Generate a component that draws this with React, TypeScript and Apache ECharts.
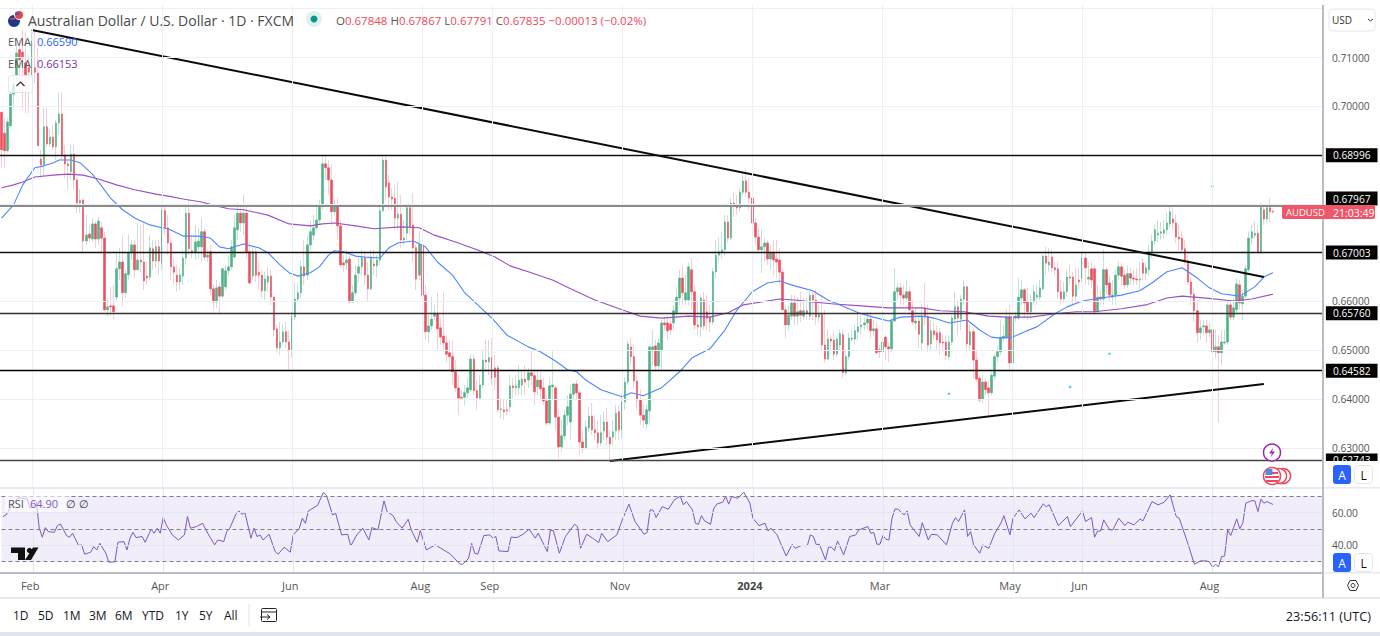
import React, { useEffect, useRef } from "react";
import * as echarts from "echarts";

// Daily AUD/USD candles: [open, close, low, high], in 1/10000 of a dollar.
const candlesFeb23: number[][] = [
[6988,6911,6874,6988],[6945,6909,6874,6976],[6909,6968,6905,6976],[6960,7025,6960,7034],[7025,7044,6997,7064],[7064,7109,7044,7130],[7116,7095,7064,7136],[7111,7099,6993,7157],[7089,7064,6986,7152],[7079,7070,6986,7105],
[7064,7134,7064,7152],[7079,7070,7046,7157],[7068,6919,6919,7120],[6892,6880,6853,6911],[6880,6958,6855,6997],[6958,6923,6917,6997],[6923,6937,6917,6952],[6937,6917,6911,6962],[6917,6966,6890,6972],[6966,6984,6941,7029],
[6984,6900,6890,7029],[6900,6882,6853,6921],[6882,6878,6829,6890],[6866,6902,6849,6921],[6902,6849,6829,6921],[6849,6802,6781,6853],[6802,6808,6781,6829],[6808,6724,6702,6812],[6724,6736,6716,6777],[6738,6730,6722,6757],
[6728,6759,6722,6771],[6759,6728,6710,6763],[6728,6765,6716,6773],[6751,6730,6702,6763],[6730,6583,6579,6743],[6583,6589,6568,6607],[6591,6589,6570,6630],[6591,6579,6564,6634],[6609,6667,6603,6700],[6667,6681,6644,6710],
[6681,6618,6591,6736],[6618,6657,6607,6665],[6655,6700,6644,6736],[6700,6716,6685,6726],[6716,6665,6648,6726],[6665,6685,6665,6761],[6685,6681,6660,6757],[6681,6642,6624,6763],[6652,6648,6634,6681],[6650,6710,6644,6736],
[6708,6683,6665,6726],[6683,6712,6669,6726],[6712,6683,6654,6726],[6679,6786,6665,6798],[6786,6751,6736,6798],[6751,6720,6695,6777],[6720,6671,6644,6730],[6671,6660,6634,6689],[6654,6640,6620,6675],[6640,6654,6624,6669],
];
const candlesApr23: number[][] = [
[6652,6689,6634,6706],[6689,6781,6675,6798],[6781,6708,6695,6808],[6704,6702,6689,6736],[6700,6722,6685,6757],[6712,6724,6689,6751],[6712,6743,6681,6771],[6743,6691,6685,6751],[6691,6695,6681,6706],[6702,6626,6613,6716],
[6626,6599,6583,6634],[6599,6628,6587,6644],[6630,6611,6575,6640],[6611,6667,6607,6669],[6630,6663,6624,6675],[6663,6671,6654,6695],[6671,6712,6665,6726],[6691,6751,6689,6777],[6747,6781,6726,6802],[6781,6761,6743,6798],
[6761,6781,6736,6818],[6781,6702,6689,6798],[6702,6638,6634,6722],[6652,6702,6644,6710],[6702,6654,6640,6710],[6660,6654,6624,6681],[6654,6622,6607,6665],[6622,6646,6603,6661],[6640,6652,6620,6669],[6652,6609,6593,6665],
[6609,6542,6529,6613],[6544,6505,6495,6552],[6505,6517,6491,6558],[6517,6538,6511,6552],[6538,6517,6505,6558],[6517,6501,6460,6542],[6501,6570,6485,6579],[6568,6605,6562,6640],[6605,6618,6599,6636],[6618,6671,6607,6685],
[6671,6652,6634,6726],[6654,6716,6644,6736],[6716,6743,6706,6767],[6736,6751,6726,6777],[6751,6767,6747,6798],[6767,6796,6757,6808],[6796,6882,6788,6900],[6882,6874,6849,6900],[6874,6849,6818,6890],[6849,6784,6757,6880],
[6784,6794,6777,6808],[6796,6755,6726,6812],[6755,6675,6669,6767],[6679,6675,6660,6695],[6679,6685,6665,6706],[6687,6599,6597,6695],[6599,6618,6597,6634],[6618,6654,6613,6675],[6658,6671,6640,6689],[6671,6689,6654,6706],
];
const candlesJul23: number[][] = [
[6689,6654,6634,6700],[6654,6626,6599,6681],[6626,6691,6624,6706],[6677,6673,6654,6706],[6673,6685,6650,6695],[6685,6786,6675,6798],[6786,6890,6784,6900],[6890,6835,6808,6896],[6843,6814,6788,6859],[6814,6810,6788,6833],
[6812,6771,6747,6839],[6771,6779,6747,6845],[6779,6726,6710,6818],[6726,6730,6716,6767],[6740,6792,6726,6798],[6792,6753,6736,6798],[6757,6710,6681,6822],[6710,6646,6624,6716],[6654,6716,6644,6743],[6716,6613,6579,6722],
[6613,6538,6521,6634],[6538,6550,6515,6572],[6550,6564,6542,6609],[6570,6576,6562,6593],[6576,6544,6501,6618],[6546,6527,6511,6566],[6529,6515,6497,6618],[6515,6492,6476,6531],[6495,6487,6460,6521],[6487,6456,6429,6521],
[6456,6423,6415,6480],[6423,6402,6367,6449],[6404,6402,6398,6419],[6404,6413,6388,6429],[6413,6423,6402,6443],[6419,6482,6415,6491],[6482,6417,6408,6491],[6417,6402,6378,6439],[6402,6429,6398,6449],[6429,6480,6423,6501],
[6480,6476,6460,6521],[6476,6485,6449,6521],[6485,6443,6429,6525],[6464,6445,6419,6491],[6464,6378,6372,6470],[6378,6380,6361,6402],[6378,6374,6357,6398],[6378,6376,6367,6398],[6384,6427,6374,6449],[6427,6423,6402,6443],
[6423,6427,6408,6449],[6423,6439,6408,6470],[6429,6441,6408,6456],[6441,6435,6408,6470],[6439,6454,6423,6464],[6454,6448,6429,6501],[6448,6415,6388,6460],[6425,6439,6408,6456],[6439,6421,6398,6454],[6423,6396,6388,6443],
];
const candlesSep23: number[][] = [
[6396,6351,6347,6408],[6351,6427,6347,6443],[6425,6429,6398,6501],[6423,6363,6337,6429],[6363,6302,6279,6378],[6302,6325,6292,6357],[6325,6367,6316,6378],[6367,6384,6347,6408],[6353,6410,6316,6429],[6410,6431,6398,6433],
[6431,6413,6398,6439],[6413,6312,6285,6419],[6312,6298,6289,6337],[6300,6343,6296,6357],[6341,6365,6333,6384],[6365,6337,6326,6392],[6337,6331,6316,6367],[6331,6310,6296,6357],[6310,6331,6304,6367],[6335,6353,6316,6374],
[6353,6322,6306,6382],[6322,6308,6273,6337],[6322,6333,6306,6357],[6335,6371,6316,6388],[6374,6337,6316,6388],[6337,6394,6320,6408],[6394,6435,6378,6445],[6435,6513,6429,6521],[6507,6487,6470,6525],[6487,6437,6423,6511],
[6437,6398,6378,6449],[6398,6367,6347,6419],[6367,6357,6341,6388],[6349,6378,6337,6388],[6376,6507,6347,6511],[6499,6507,6470,6542],[6509,6468,6456,6521],[6468,6515,6460,6525],[6499,6556,6456,6562],[6556,6552,6540,6570],
[6556,6540,6521,6572],[6554,6542,6531,6566],[6556,6581,6542,6593],[6577,6609,6566,6628],[6607,6648,6593,6665],[6648,6618,6593,6675],[6603,6618,6593,6654],[6603,6671,6593,6679],[6665,6620,6583,6689],[6620,6552,6542,6634],
[6552,6548,6531,6603],[6548,6607,6527,6613],[6603,6550,6542,6620],[6579,6566,6542,6613],[6568,6558,6538,6593],[6558,6661,6552,6669],[6661,6695,6648,6726],[6695,6702,6681,6730],[6700,6706,6689,6743],[6706,6763,6695,6777],
];
const candlesDec23: number[][] = [
[6763,6730,6720,6777],[6730,6802,6726,6812],[6802,6796,6773,6824],[6794,6792,6777,6818],[6792,6824,6784,6833],[6824,6847,6818,6865],[6847,6824,6814,6872],[6824,6812,6788,6853],[6812,6761,6757,6839],[6761,6732,6716,6771],
[6732,6706,6702,6751],[6706,6712,6659,6747],[6712,6720,6681,6730],[6720,6687,6675,6726],[6687,6699,6665,6716],[6699,6685,6654,6726],[6687,6681,6648,6726],[6685,6660,6634,6710],[6660,6583,6583,6669],[6583,6552,6525,6593],
[6552,6572,6542,6593],[6570,6597,6562,6613],[6597,6570,6552,6613],[6570,6579,6552,6609],[6581,6572,6558,6620],[6570,6581,6562,6607],[6581,6576,6562,6607],[6570,6613,6562,6620],[6613,6603,6562,6620],[6603,6568,6552,6624],
[6568,6574,6558,6593],[6574,6511,6501,6613],[6511,6482,6474,6583],[6482,6523,6480,6542],[6523,6519,6501,6531],[6521,6492,6480,6538],[6492,6523,6487,6531],[6511,6534,6501,6542],[6532,6454,6443,6542],[6454,6487,6449,6501],
[6487,6525,6480,6536],[6523,6525,6517,6542],[6523,6540,6511,6552],[6538,6548,6521,6579],[6548,6552,6531,6572],[6552,6556,6542,6566],[6556,6564,6542,6579],[6564,6540,6525,6579],[6540,6544,6531,6562],[6544,6495,6491,6558],
[6501,6497,6484,6511],[6497,6517,6484,6525],[6527,6507,6480,6531],[6507,6503,6476,6515],[6503,6560,6497,6566],[6560,6620,6558,6669],[6620,6628,6603,6638],[6628,6613,6593,6638],[6613,6607,6593,6634],[6607,6620,6599,6644],
];
const candlesMar24: number[][] = [
[6620,6583,6572,6630],[6581,6558,6552,6603],[6556,6560,6542,6587],[6560,6533,6505,6572],[6515,6568,6501,6593],[6587,6570,6552,6638],[6570,6511,6497,6593],[6513,6540,6501,6562],[6540,6532,6521,6558],[6536,6521,6501,6552],
[6536,6515,6491,6546],[6517,6515,6497,6531],[6517,6489,6480,6531],[6487,6517,6480,6531],[6517,6566,6511,6572],[6564,6589,6552,6620],[6589,6566,6531,6603],[6564,6605,6542,6613],[6605,6630,6593,6644],[6630,6513,6501,6634],
[6511,6538,6501,6552],[6538,6480,6443,6546],[6480,6441,6435,6501],[6443,6398,6392,6449],[6400,6435,6392,6449],[6435,6419,6408,6443],[6423,6413,6367,6439],[6413,6449,6408,6456],[6447,6487,6439,6491],[6487,6497,6476,6511],
[6497,6527,6491,6562],[6525,6529,6517,6552],[6527,6568,6521,6583],[6568,6474,6456,6593],[6474,6566,6468,6583],[6566,6570,6558,6579],[6566,6609,6562,6648],[6607,6624,6593,6644],[6624,6597,6566,6628],[6599,6579,6562,6628],
[6579,6601,6566,6613],[6599,6620,6593,6634],[6609,6613,6593,6634],[6609,6628,6603,6644],[6626,6693,6624,6695],[6693,6679,6654,6712],[6675,6681,6660,6710],[6691,6669,6660,6706],[6669,6665,6654,6681],[6667,6620,6607,6681],
[6620,6605,6593,6644],[6605,6620,6597,6640],[6620,6650,6611,6665],[6650,6648,6634,6675],[6650,6611,6593,6660],[6611,6634,6599,6669],[6644,6640,6624,6669],[6648,6689,6640,6702],[6689,6669,6634,6700],[6646,6650,6634,6681],
];
const candlesJun24: number[][] = [
[6667,6644,6628,6681],[6667,6579,6572,6675],[6579,6609,6575,6634],[6609,6605,6593,6624],[6605,6665,6593,6706],[6665,6634,6613,6669],[6638,6613,6599,6654],[6609,6613,6593,6644],[6613,6654,6593,6665],[6654,6671,6644,6681],
[6671,6652,6634,6679],[6654,6634,6624,6665],[6634,6657,6628,6673],[6657,6648,6634,6669],[6648,6646,6634,6665],[6646,6644,6634,6669],[6644,6646,6624,6681],[6679,6658,6644,6689],[6658,6669,6644,6679],[6665,6702,6654,6716],
[6702,6724,6689,6736],[6724,6747,6716,6757],[6736,6740,6722,6767],[6740,6743,6726,6763],[6740,6747,6730,6767],[6747,6761,6736,6784],[6759,6784,6751,6798],[6769,6761,6747,6792],[6761,6732,6720,6777],[6732,6728,6706,6757],
[6730,6706,6702,6743],[6708,6681,6675,6726],[6683,6640,6634,6695],[6640,6615,6593,6648],[6615,6581,6558,6628],[6581,6536,6515,6603],[6536,6546,6521,6562],[6548,6550,6531,6562],[6550,6536,6515,6562],[6536,6542,6525,6558],
[6542,6497,6480,6562],[6497,6507,6484,6542],[6507,6495,6351,6531],[6495,6517,6470,6542],[6515,6517,6511,6542],[6517,6593,6511,6603],[6593,6568,6562,6603],[6568,6587,6562,6607],[6583,6636,6577,6648],[6634,6597,6583,6644],
[6595,6611,6562,6624],[6611,6667,6603,6675],[6665,6730,6660,6743],[6730,6743,6716,6757],[6736,6740,6730,6763],[6740,6702,6702,6757],[6702,6794,6698,6802],[6788,6769,6757,6798],[6769,6792,6763,6798],[6792,6784,6763,6812],
[6784.8,6783.5,6779.1,6786.7],
];

// EMA readings: candle number and value in 1/10000 of a dollar.
const emaFastIndex = [0,4,7,11,14,17,19,23,26,30,33,36,40,44,49,53,55,60,65,69,72,75,77,80,85,88,92,95,98,102,105,108,110,113,117,120,125,128,131,136,140,144,149,153,158,162,167,174,178,183,187,190,193,198,205,208,212,218,224,228,234,239,243,248,253,257,262,268,273,277,283,288,293,297,304,308,313,319,323,327,330,334,338,342,348,352,357,361,370,376,380,385,390,395,399,403,409,414,417,420];
const emaFastValues = [6771,6798,6839,6874,6878,6884,6890,6890,6884,6861,6837,6812,6788,6771,6757,6751,6749,6734,6734,6730,6712,6708,6712,6718,6710,6700,6675,6659,6652,6659,6671,6695,6704,6702,6693,6691,6689,6710,6720,6724,6712,6681,6654,6618,6589,6566,6531,6507,6497,6478,6460,6456,6439,6419,6405,6413,6407,6423,6456,6484,6503,6542,6583,6620,6638,6642,6632,6622,6603,6593,6577,6568,6560,6568,6570,6566,6556,6562,6542,6527,6525,6527,6538,6548,6575,6589,6601,6605,6613,6622,6638,6661,6669,6648,6628,6616,6611,6630,6650,6659];
const emaSlowIndex = [0,4,7,11,17,22,27,32,38,44,51,55,60,66,71,75,80,88,95,102,106,110,117,123,132,138,143,150,158,163,168,174,182,188,196,205,211,218,227,234,240,245,251,257,262,268,275,284,293,304,310,318,326,332,340,348,355,361,370,378,385,390,398,407,413,420];
const emaSlowValues = [6833,6839,6845,6855,6859,6861,6859,6851,6839,6829,6820,6816,6810,6804,6796,6790,6788,6777,6759,6755,6759,6761,6755,6749,6753,6751,6736,6722,6704,6691,6673,6661,6644,6626,6603,6583,6570,6566,6570,6568,6577,6593,6599,6605,6603,6599,6595,6591,6587,6587,6581,6579,6570,6568,6568,6575,6579,6579,6585,6593,6607,6611,6607,6601,6605,6615];

// RSI readings: candle number and value.
const rsiIndex = [0,1,3,5,8,9,11,12,13,14,15,17,18,19,21,22,23,25,26,27,29,30,31,32,34,35,37,38,40,41,42,43,44,46,47,49,50,51,52,53,54,56,58,60,61,62,64,66,68,70,71,73,74,75,77,78,79,80,82,83,84,85,86,88,90,91,93,95,96,98,99,100,101,104,106,107,109,110,112,114,115,117,119,121,122,124,126,127,129,130,132,134,135,137,138,140,143,148,151,152,154,155,156,157,159,161,162,163,164,167,168,170,172,174,176,177,180,181,182,184,186,189,190,191,193,195,197,198,200,203,204,205,207,209,212,213,214,215,216,218,220,222,224,225,226,228,229,230,231,232,234,235,236,238,239,240,241,243,245,247,248,250,252,253,254,256,259,261,262,264,266,267,268,269,270,272,273,274,275,276,278,280,282,283,286,287,288,289,290,291,292,293,294,295,296,298,299,300,303,304,306,307,309,312,314,315,316,318,319,320,321,323,324,326,328,330,331,333,334,336,338,340,341,342,344,345,346,349,352,353,357,358,360,361,362,363,364,366,367,369,371,372,374,376,377,380,382,384,386,388,389,392,394,396,398,399,400,401,402,403,404,405,406,408,409,410,411,413,414,415,416,417,418,420];
const rsiValues = [57.5,58.5,64.7,69.1,68.3,62.6,66.7,50.4,44.9,50.8,48.3,47.9,52,53,45.9,44.9,47.3,39.8,40.2,34.5,35.7,39.2,37.1,41.2,35.1,29.6,29.8,41.8,42.2,37.1,44.3,47.9,44.7,45.3,41.8,49.8,47.3,50.4,47.3,57.1,52.4,46.3,43.2,46.3,57.5,50.4,51.4,53.4,46.3,40.2,43.2,42.2,48.3,50.4,58.9,61,58.9,60,44.3,50.4,45.3,46.3,43.2,46.7,36.1,34.5,38.8,35.7,46.3,50.4,56.5,53.4,61,64.3,72.4,70.4,58.5,59.6,46.3,46.7,39.6,46.3,50.4,43.2,50.8,49.4,67.1,60.6,58.1,54.5,50.4,55.9,49.4,41.8,49,37.1,40.2,34.5,28.6,28.3,32,41.2,35.1,34.5,45.9,46.3,44.3,45.3,36.5,36.1,44.9,44.7,46.7,49.8,44.3,47.3,36.1,49,49,35.1,45.3,52.8,51.4,38.1,46.7,44.3,41.6,47.3,42.2,46.3,51.4,56.5,65.1,54.5,46.7,47.7,61.6,61.4,56.9,63.6,62,67.7,70,64.7,66.7,61.6,53.4,52.8,58.1,54.9,52.8,62.2,65.1,66.3,69.8,65.1,69.8,68.7,72.4,65.7,56.5,52,53.4,48.7,50.4,46.3,33.4,40.6,38.1,39.8,39.8,46.3,45.3,40.2,40.6,31,38.8,38.8,36.7,42.6,34.1,45.3,46.3,49.4,51.4,47.3,47.7,40.6,40.6,45.9,43.6,43.2,56.5,62.2,62,58.5,61,52.4,45.3,53.8,43.2,46.7,46.3,40.2,53.4,56.9,54.5,61.6,45.3,48.3,40.2,35.1,40.2,38.1,47.3,53.4,58.1,46.3,56.5,61.6,56.1,59.6,56.9,59.6,65.3,63.6,64.7,52,57.5,51.4,61,54.5,56.9,44.9,48.7,48.7,55.5,49.4,49.4,56.5,52,54.1,52.4,56.1,54.9,66.7,64.7,66.3,70.8,57.5,56.5,40.2,28.3,30.4,30.4,29.6,26.5,28.3,26.9,33,33.4,49.4,45.9,56.1,50,53.4,65.7,67.3,67.1,60.6,68.1,65.7,66.7,64.9];

// Price scale, levels and trend lines, in dollars.
const priceTicks = [0.63, 0.64, 0.65, 0.66, 0.7, 0.71];
const priceGrid = [0.63, 0.64, 0.65, 0.66, 0.67, 0.68, 0.69, 0.7, 0.71, 0.72];
const levels = [0.68996, 0.67967, 0.67003, 0.6576, 0.64582, 0.62743];
const levelColors = ["#111", "#8a8a8a", "#111", "#333", "#000", "#444"];
const falling = [[10, 0.71564], [417, 0.66502]];
const rising = [[201, 0.62732], [417, 0.64309]];
const stray = [[400, 0.6836], [366, 0.6493], [353, 0.6425], [313, 0.6411]];
const rsiTicks = [40, 60];

// Time axis.
const monthIndex = [10, 53, 96, 139, 162, 205, 248, 291, 334, 357, 400];
const monthLabelIndex = [9, 52, 95, 138, 161, 204, 247, 290, 333, 356, 399];
const monthNames = ["Feb", "Apr", "Jun", "Aug", "Sep", "Nov", "2024", "Mar", "May", "Jun", "Aug"];
const rangeButtons = ["1D", "5D", "1M", "3M", "6M", "YTD", "1Y", "5Y", "All"];
const rangeX = [13, 38, 63, 89, 115, 142, 175, 199, 224];

const SLOTS = 437;
const FONT = '"Open Sans", sans-serif';
const UP = "#4fb386";
const DOWN = "#ee4f60";

const candles = [...candlesFeb23, ...candlesApr23, ...candlesJul23, ...candlesSep23, ...candlesDec23, ...candlesMar24, ...candlesJun24]
  .map((r) => r.map((v) => v / 10000));
const categories = Array.from({ length: SLOTS }, (_, i) => String(i));
const pairUp = (ix: number[], vs: number[], k = 1) => ix.map((x, i) => [x, vs[i] * k]);

const txt = (x: number, y: number, text: string, fontSize: number, fill: string, extra: any = {}) => ({
  type: "text", x, y, z: 110,
  style: { text, fontSize, fill, fontFamily: FONT, verticalAlign: "middle", ...extra },
});
const box = (x: number, y: number, width: number, height: number, fill: string, stroke?: string, r = 0, z = 100) => ({
  type: "rect", z, shape: { x, y, width, height, r },
  style: stroke ? { fill, stroke, lineWidth: 1 } : { fill },
});

export default function App() {
  const ref = useRef<HTMLDivElement>(null);
  useEffect(() => {
    const chart = echarts.init(ref.current!, undefined, { renderer: "svg" });
    const monthLines = monthIndex.map((x) => ({ xAxis: x }));
    const gridStyle = { color: "#e9f0f6", width: 1, type: "solid" as const };
    const ohlcRich: any = {
      l: { fontSize: 11.5, fill: "#555", color: "#555", fontFamily: FONT },
      v: { fontSize: 11.5, fill: "#f0485a", color: "#f0485a", fontFamily: FONT },
    };
    chart.setOption({
      animation: false,
      backgroundColor: "#fff",
      grid: [
        { left: -2.5, top: 5, width: 1325.4, height: 483 },
        { left: -2.5, top: 488, width: 1325.4, height: 85 },
      ],
      xAxis: [
        { type: "category", gridIndex: 0, data: categories, boundaryGap: true, axisLine: { show: false }, axisTick: { show: false }, axisLabel: { show: false }, splitLine: { show: false } },
        {
          type: "category", gridIndex: 1, data: categories, boundaryGap: true,
          axisLine: { show: false }, axisTick: { show: false }, splitLine: { show: false },
          axisLabel: {
            interval: 0, margin: 7, color: "#555", fontSize: 11, fontFamily: FONT, hideOverlap: false,
            formatter: (value: string) => {
              const k = monthLabelIndex.indexOf(Number(value));
              if (k < 0) return "";
              return monthNames[k] === "2024" ? "{b|2024}" : monthNames[k];
            },
            rich: { b: { fontWeight: "bold", color: "#444", fontSize: 11, fontFamily: FONT } },
          },
        },
      ],
      yAxis: [
        {
          type: "value", gridIndex: 0, position: "right", min: 0.62178, max: 0.72076, scale: true,
          axisLine: { show: false }, axisTick: { show: false }, splitLine: { show: false },
          axisLabel: { customValues: priceTicks, margin: 9, color: "#555", fontSize: 10.2, fontFamily: FONT, formatter: (v: number) => v.toFixed(5) },
        },
        {
          type: "value", gridIndex: 1, position: "right", min: 23, max: 75, scale: true,
          axisLine: { show: false }, axisTick: { show: false }, splitLine: { show: false },
          axisLabel: { customValues: rsiTicks, margin: 9, color: "#555", fontSize: 10.2, fontFamily: FONT, formatter: (v: number) => v.toFixed(2) },
        },
      ],
      series: [
        {
          type: "line", xAxisIndex: 0, yAxisIndex: 0, data: [], z: 0, silent: true,
          markLine: { silent: true, symbol: "none", precision: 5, label: { show: false }, lineStyle: gridStyle, data: [...monthLines, ...priceGrid.map((v) => ({ yAxis: v }))] },
        },
        {
          type: "candlestick", xAxisIndex: 0, yAxisIndex: 0, barWidth: 1, z: 1, silent: true,
          data: candles.map((c) => [c[0], c[1], c[2], c[3]]),
          itemStyle: { color: "#f9cdd2", color0: "#f9cdd2", borderColor: "#f9cdd2", borderColor0: "#f9cdd2", borderWidth: 1 },
        },
        {
          type: "candlestick", xAxisIndex: 0, yAxisIndex: 0, barWidth: 1, z: 1, silent: true,
          data: candles.map((c) => (c[1] > c[0] ? [c[0], c[1], c[2], c[3]] : [c[0], c[0], c[0], c[0]])),
          itemStyle: { color: "#c4e2d9", color0: "#c4e2d9", borderColor: "#c4e2d9", borderColor0: "#c4e2d9", borderWidth: 1 },
        },
        {
          type: "candlestick", xAxisIndex: 0, yAxisIndex: 0, barWidth: 2, z: 2, silent: true,
          data: candles.map((c) => [c[0], c[1], Math.min(c[0], c[1]), Math.max(c[0], c[1])]),
          itemStyle: { color: UP, color0: DOWN, borderColor: UP, borderColor0: DOWN, borderWidth: 0.6 },
        },
        {
          type: "line", xAxisIndex: 0, yAxisIndex: 0, z: 3, silent: true, symbol: "none",
          data: pairUp(emaSlowIndex, emaSlowValues, 1 / 10000), lineStyle: { color: "#9b4fc0", width: 1.1 },
        },
        {
          type: "line", xAxisIndex: 0, yAxisIndex: 0, z: 3, silent: true, symbol: "none",
          data: pairUp(emaFastIndex, emaFastValues, 1 / 10000), lineStyle: { color: "#4f86ff", width: 1.1 },
        },
        {
          type: "scatter", xAxisIndex: 0, yAxisIndex: 0, z: 3, silent: true, symbolSize: 2.5, data: stray, itemStyle: { color: "#22c3dc" },
        },
        {
          type: "line", xAxisIndex: 0, yAxisIndex: 0, z: 4, silent: true, symbol: "none", data: falling, lineStyle: { color: "#0a0a0a", width: 2 },
        },
        {
          type: "line", xAxisIndex: 0, yAxisIndex: 0, z: 4, silent: true, symbol: "none", data: rising, lineStyle: { color: "#0a0a0a", width: 2 },
        },
        {
          type: "line", xAxisIndex: 0, yAxisIndex: 0, z: 5, data: [], silent: true,
          markLine: {
            silent: true, symbol: "none", precision: 5,
            data: levels.map((v, i) => ({
              yAxis: v,
              lineStyle: { color: levelColors[i], width: i === 1 ? 2 : 1.4, type: "solid" },
              label: {
                show: true, position: "end", distance: 3,
                formatter: () => v.toFixed(5),
                backgroundColor: "#000", color: "#fff", fontSize: 10.2, fontFamily: FONT,
                padding: [2, 7, 2, 7], offset: i === 1 ? [0, -7] : [0, 0],
              },
            })),
          },
        },
        {
          type: "line", xAxisIndex: 1, yAxisIndex: 1, z: 1, data: [], silent: true,
          markArea: { silent: true, itemStyle: { color: "#f1edf9" }, data: [[{ yAxis: 30 }, { yAxis: 70 }]] },
        },
        {
          type: "line", xAxisIndex: 1, yAxisIndex: 1, z: 2, data: [], silent: true,
          markLine: { silent: true, symbol: "none", label: { show: false }, lineStyle: { color: "#e3e6f2", width: 1, type: "solid" }, data: [...monthLines, ...rsiTicks.map((v) => ({ yAxis: v }))] },
        },
        {
          type: "line", xAxisIndex: 1, yAxisIndex: 1, z: 3, data: [], silent: true,
          markLine: { silent: true, symbol: "none", label: { show: false }, lineStyle: { color: "#7f7d8c", width: 1, type: [4, 3] }, data: [{ yAxis: 30 }, { yAxis: 50 }, { yAxis: 70 }] },
        },
        {
          type: "line", xAxisIndex: 1, yAxisIndex: 1, z: 4, silent: true, symbol: "none",
          data: pairUp(rsiIndex, rsiValues), lineStyle: { color: "#7e57c2", width: 1 },
        },
      ],
      graphic: [
        box(0, 8, 1323, 1, "#f2f5fa", undefined, 0, 1),
        box(0, 487, 1323, 2, "#e6e9f1", undefined, 0, 90),
        box(0, 572, 1324, 2, "#b9bcc4", undefined, 0, 90),
        box(0, 597, 1380, 2, "#e8eaf0", undefined, 0, 90),
        box(0, 632, 1380, 4, "#e1e4ee", undefined, 0, 90),
        box(1322, 5, 2, 593, "#b9bcc4", undefined, 0, 90),
        box(1325, 461, 55, 27, "#fff", undefined, 0, 100),
        box(1325, 549, 55, 24, "#fff", undefined, 0, 100),
        box(1324, 487, 56, 1.5, "#e6e9f1", undefined, 0, 101),
        box(1324, 572, 56, 1.5, "#e6e9f1", undefined, 0, 101),
        { type: "circle", z: 110, shape: { cx: 14, cy: 21, r: 6 }, style: { fill: "#1d3a8a" } },
        { type: "circle", z: 111, shape: { cx: 19, cy: 15, r: 4.5 }, style: { fill: "#e8434f", stroke: "#fff", lineWidth: 1 } },
        { type: "rect", z: 112, shape: { x: 15, y: 12.5, width: 4, height: 2.5 }, style: { fill: "#3b5cc4" } },
        { type: "rect", z: 111, shape: { x: 10, y: 18, width: 5, height: 1.5 }, style: { fill: "#e8434f" } },
        txt(28, 20, "Australian Dollar / U.S. Dollar · 1D · FXCM", 14, "#4a4a4a"),
        { type: "circle", z: 110, shape: { cx: 314, cy: 19, r: 8 }, style: { fill: "#dff1ee" } },
        { type: "circle", z: 111, shape: { cx: 314, cy: 19, r: 3.5 }, style: { fill: "#089981" } },
        {
          type: "text", x: 336, y: 20, z: 110,
          style: {
            text: "{l|O}{v|0.67848} {l|H}{v|0.67867} {l|L}{v|0.67791} {l|C}{v|0.67835} {v|−0.00013 (−0.02%)}",
            rich: ohlcRich, fontFamily: FONT, fontSize: 11.5, verticalAlign: "middle",
          },
        },
        txt(8, 41, "EMA", 11, "#555"),
        txt(37, 41, "0.66590", 11, "#2962ff"),
        txt(8, 63, "EMA", 11, "#555"),
        txt(37, 63, "0.66153", 11, "#7b2fb5"),
        { type: "rect", z: 105, shape: { x: 8.5, y: 75.5, width: 24, height: 17, r: 3 }, style: { fill: "rgba(255,255,255,0.75)", stroke: "#e3e6ee", lineWidth: 1 } },
        { type: "polyline", z: 110, shape: { points: [[16.5, 86], [20.5, 82], [24.5, 86]] }, style: { fill: "none", stroke: "#333", lineWidth: 1.2 } },
        box(5, 495, 63, 17, "rgba(255,255,255,0.6)", undefined, 0, 100),
        txt(8, 503, "RSI", 11, "#555"),
        txt(30, 503, "64.90", 11, "#7e57c2"),
        txt(66, 503, "∅", 11, "#333"),
        txt(79, 503, "∅", 11, "#333"),
        { type: "polygon", z: 110, shape: { points: [[11, 547.5], [25, 547.5], [25, 560], [18, 560], [18, 553], [11, 553]] }, style: { fill: "#111" } },
        { type: "polygon", z: 110, shape: { points: [[33, 547.5], [38.5, 547.5], [31, 560], [25, 560]] }, style: { fill: "#111" } },
        { type: "circle", z: 110, shape: { cx: 29.5, cy: 550.5, r: 2.7 }, style: { fill: "#111" } },
        { type: "rect", z: 105, shape: { x: 1329, y: 9, width: 46, height: 22, r: 4 }, style: { fill: "#fff", stroke: "#e3e6ee", lineWidth: 1 } },
        txt(1332, 20, "USD", 10, "#333"),
        { type: "polyline", z: 110, shape: { points: [[1368, 19], [1370.5, 21], [1373, 19]] }, style: { fill: "none", stroke: "#333", lineWidth: 1 } },
        { type: "rect", z: 106, shape: { x: 1282, y: 205, width: 93, height: 14, r: 2 }, style: { fill: "#f0566a" } },
        txt(1286, 212.5, "AUDUSD", 9.5, "#fff"),
        txt(1333, 212.5, "21:03:49", 10.5, "#fff"),
        { type: "circle", z: 110, shape: { cx: 1272, cy: 452.5, r: 8.5 }, style: { fill: "#fff", stroke: "#9c27b0", lineWidth: 1.5 } },
        { type: "polygon", z: 111, shape: { points: [[1273.5, 447.5], [1269, 453.5], [1272, 453.5], [1270.5, 457.5], [1275, 451.5], [1272, 451.5]] }, style: { fill: "#9c27b0" } },
        { type: "circle", z: 110, shape: { cx: 1283, cy: 476, r: 7.5 }, style: { fill: "#fff", stroke: "#f0485a", lineWidth: 1.5 } },
        { type: "circle", z: 110, shape: { cx: 1279, cy: 476, r: 7.5 }, style: { fill: "#fff", stroke: "#f0485a", lineWidth: 1.5 } },
        { type: "circle", z: 111, shape: { cx: 1272, cy: 476, r: 8.5 }, style: { fill: "#fff", stroke: "#f0485a", lineWidth: 1.5 } },
        { type: "rect", z: 112, shape: { x: 1266, y: 472, width: 12, height: 2 }, style: { fill: "#f0485a" } },
        { type: "rect", z: 112, shape: { x: 1265, y: 476, width: 14, height: 2 }, style: { fill: "#f0485a" } },
        { type: "rect", z: 112, shape: { x: 1266, y: 480, width: 12, height: 2 }, style: { fill: "#f0485a" } },
        { type: "rect", z: 113, shape: { x: 1265.5, y: 469, width: 7, height: 6 }, style: { fill: "#4a90d9" } },
        { type: "rect", z: 105, shape: { x: 1333, y: 465, width: 18, height: 19, r: 3 }, style: { fill: "#2962ff" } },
        txt(1342, 475, "A", 12, "#fff", { align: "center" }),
        { type: "rect", z: 105, shape: { x: 1354.5, y: 465.5, width: 18, height: 18, r: 3 }, style: { fill: "#fff", stroke: "#e3e6ee", lineWidth: 1 } },
        txt(1363.5, 475, "L", 12, "#111", { align: "center" }),
        { type: "rect", z: 105, shape: { x: 1333, y: 553, width: 18, height: 19, r: 3 }, style: { fill: "#2962ff" } },
        txt(1342, 563, "A", 12, "#fff", { align: "center" }),
        { type: "rect", z: 105, shape: { x: 1354.5, y: 553.5, width: 18, height: 18, r: 3 }, style: { fill: "#fff", stroke: "#e3e6ee", lineWidth: 1 } },
        txt(1363.5, 563, "L", 12, "#111", { align: "center" }),
        { type: "polygon", z: 110, shape: { points: [[1347.5, 585.5], [1350, 580.5], [1356, 580.5], [1358.5, 585.5], [1356, 590.5], [1350, 590.5]] }, style: { fill: "#fff", stroke: "#333", lineWidth: 1 } },
        { type: "circle", z: 111, shape: { cx: 1353, cy: 585.5, r: 2 }, style: { fill: "#fff", stroke: "#333", lineWidth: 1 } },
        ...rangeButtons.map((t, i) => txt(rangeX[i], 615.5, t, 12, "#131722")),
        box(248.5, 604, 1, 23, "#e0e3eb", undefined, 0, 100),
        { type: "rect", z: 110, shape: { x: 261.5, y: 608.5, width: 15, height: 13, r: 1 }, style: { fill: "none", stroke: "#222", lineWidth: 1 } },
        { type: "line", z: 110, shape: { x1: 261.5, y1: 612, x2: 276.5, y2: 612 }, style: { stroke: "#222", lineWidth: 1 } },
        { type: "polyline", z: 111, shape: { points: [[260, 617], [270, 617]] }, style: { fill: "none", stroke: "#222", lineWidth: 1 } },
        { type: "polyline", z: 111, shape: { points: [[267, 614.5], [270, 617], [267, 619.5]] }, style: { fill: "none", stroke: "#222", lineWidth: 1 } },
        txt(1371, 615.5, "23:56:11 (UTC)", 12.7, "#131722", { align: "right" }),
      ],
    });
    return () => chart.dispose();
  }, []);
  return (
    <div
      ref={ref}
      style={{ position: "fixed", left: 0, top: 0, width: 1380, height: 636, background: "#fff" }}
    />
  );
}
